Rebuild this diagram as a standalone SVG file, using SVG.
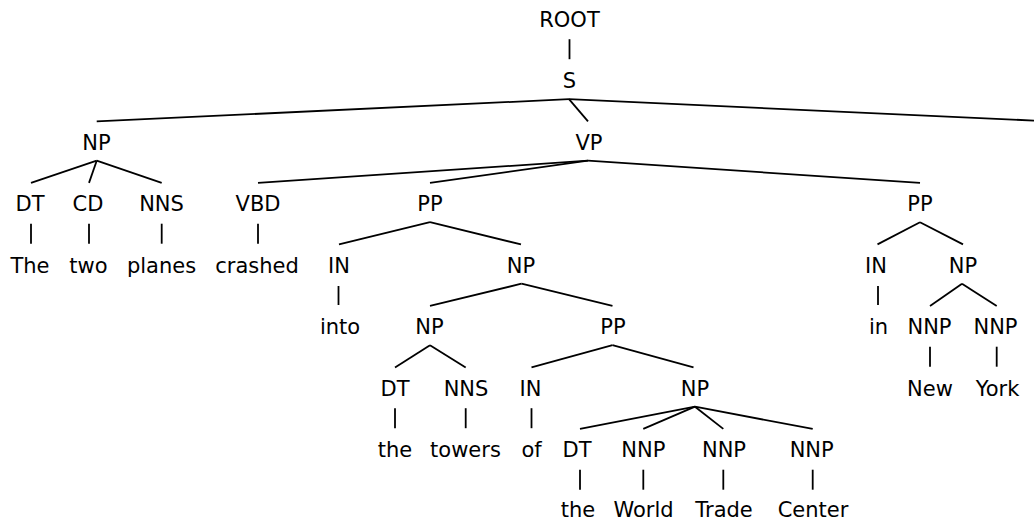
<svg xmlns="http://www.w3.org/2000/svg" width="1034" height="521" viewBox="0 0 1034 521">
  <style>
    .lbl { font-family: "DejaVu Sans", "Noto Sans", sans-serif; font-size: 21px; text-anchor: middle; fill: #000; }
    .edge { stroke: #000; stroke-width: 1.8; fill: none; stroke-linecap: butt; }
  </style>
  <rect width="1034" height="521" fill="#fff"/>

  <!-- tree edges -->
  <g id="connectors" class="edge">
    <!-- ROOT -> S -->
    <line x1="569.5" y1="39.2" x2="569.5" y2="59.2"/>
    <!-- S -> NP, VP, (clipped) -->
    <line x1="569" y1="99.2" x2="96.7" y2="121.4"/>
    <line x1="569" y1="99.2" x2="588" y2="121.4"/>
    <line x1="569" y1="99.2" x2="1034" y2="120.6"/>
    <!-- NP -> DT CD NNS -->
    <line x1="96.7" y1="160.7" x2="31" y2="182.9"/>
    <line x1="96.7" y1="160.7" x2="89" y2="182.9"/>
    <line x1="96.7" y1="160.7" x2="161.7" y2="182.9"/>
    <!-- VP -> VBD PP PP -->
    <line x1="588" y1="160.7" x2="258" y2="182.9"/>
    <line x1="588" y1="160.7" x2="430" y2="182.9"/>
    <line x1="588" y1="160.7" x2="920" y2="182.9"/>
    <!-- preterminals -> words -->
    <line x1="31" y1="223.7" x2="31" y2="243.7"/>
    <line x1="89" y1="223.7" x2="89" y2="243.7"/>
    <line x1="161.7" y1="223.7" x2="161.7" y2="243.7"/>
    <line x1="258" y1="223.7" x2="258" y2="243.7"/>
    <!-- PP -> IN NP -->
    <line x1="430" y1="222.2" x2="339" y2="244.4"/>
    <line x1="430" y1="222.2" x2="521" y2="244.4"/>
    <!-- PP -> IN NP (right) -->
    <line x1="920" y1="222.2" x2="877.5" y2="244.4"/>
    <line x1="920" y1="222.2" x2="963" y2="244.4"/>
    <!-- IN -> into, IN -> in -->
    <line x1="338.5" y1="286" x2="338.5" y2="305"/>
    <line x1="878" y1="286" x2="878" y2="305"/>
    <!-- NP -> NP PP -->
    <line x1="521.5" y1="283.7" x2="430" y2="305.9"/>
    <line x1="521.5" y1="283.7" x2="612.5" y2="305.9"/>
    <!-- NP -> NNP NNP -->
    <line x1="962" y1="283.7" x2="930" y2="305.9"/>
    <line x1="962" y1="283.7" x2="996.7" y2="305.9"/>
    <!-- NNP -> New, York -->
    <line x1="930" y1="346.7" x2="930" y2="366.7"/>
    <line x1="996.7" y1="346.7" x2="996.7" y2="366.7"/>
    <!-- NP -> DT NNS -->
    <line x1="430" y1="345.2" x2="395" y2="367.4"/>
    <line x1="430" y1="345.2" x2="465.7" y2="367.4"/>
    <!-- PP -> IN NP -->
    <line x1="612.5" y1="345.2" x2="531.5" y2="367.4"/>
    <line x1="612.5" y1="345.2" x2="693.5" y2="367.4"/>
    <!-- DT -> the, NNS -> towers, IN -> of -->
    <line x1="395" y1="408.2" x2="395" y2="428.2"/>
    <line x1="465.7" y1="408.2" x2="465.7" y2="428.2"/>
    <line x1="531.5" y1="408.2" x2="531.5" y2="428.2"/>
    <!-- NP -> DT NNP NNP NNP -->
    <line x1="695" y1="406.7" x2="580" y2="428.9"/>
    <line x1="695" y1="406.7" x2="643.3" y2="428.9"/>
    <line x1="695" y1="406.7" x2="723.3" y2="428.9"/>
    <line x1="695" y1="406.7" x2="812.7" y2="428.9"/>
    <!-- DT/NNP -> the World Trade Center -->
    <line x1="580" y1="469.7" x2="580" y2="489.7"/>
    <line x1="643.3" y1="469.7" x2="643.3" y2="489.7"/>
    <line x1="723.3" y1="469.7" x2="723.3" y2="489.7"/>
    <line x1="812.7" y1="469.7" x2="812.7" y2="489.7"/>
  </g>

  <!-- labels -->
  <g id="n-root"><text class="lbl" x="569.5" y="26.7">ROOT</text></g>
  <g id="n-s"><text class="lbl" x="569.5" y="88.2">S</text></g>

  <g id="n-np1"><text class="lbl" x="96.5" y="149.7">NP</text></g>
  <g id="n-vp"><text class="lbl" x="589" y="149.7">VP</text></g>

  <g id="n-dt1"><text class="lbl" x="30" y="211.2">DT</text></g>
  <g id="n-cd"><text class="lbl" x="88" y="211.2">CD</text></g>
  <g id="n-nns1"><text class="lbl" x="161.5" y="211.2">NNS</text></g>
  <g id="n-vbd"><text class="lbl" x="258" y="211.2">VBD</text></g>
  <g id="n-pp1"><text class="lbl" x="430" y="211.2">PP</text></g>
  <g id="n-pp3"><text class="lbl" x="920" y="211.2">PP</text></g>

  <g id="w-the1"><text class="lbl" x="30" y="272.7">The</text></g>
  <g id="w-two"><text class="lbl" x="88.5" y="272.7">two</text></g>
  <g id="w-planes"><text class="lbl" x="161.5" y="272.7">planes</text></g>
  <g id="w-crashed"><text class="lbl" x="257" y="272.7">crashed</text></g>
  <g id="n-in1"><text class="lbl" x="339" y="272.7">IN</text></g>
  <g id="n-np2"><text class="lbl" x="521" y="272.7">NP</text></g>
  <g id="n-in3"><text class="lbl" x="876" y="272.7">IN</text></g>
  <g id="n-np5"><text class="lbl" x="963" y="272.7">NP</text></g>

  <g id="w-into"><text class="lbl" x="340" y="334.2">into</text></g>
  <g id="n-np3"><text class="lbl" x="429.5" y="334.2">NP</text></g>
  <g id="n-pp2"><text class="lbl" x="613" y="334.2">PP</text></g>
  <g id="w-in"><text class="lbl" x="878.5" y="334.2">in</text></g>
  <g id="n-nnp4"><text class="lbl" x="929.5" y="334.2">NNP</text></g>
  <g id="n-nnp5"><text class="lbl" x="995.5" y="334.2">NNP</text></g>

  <g id="n-dt2"><text class="lbl" x="395" y="395.7">DT</text></g>
  <g id="n-nns2"><text class="lbl" x="466" y="395.7">NNS</text></g>
  <g id="n-in2"><text class="lbl" x="530.5" y="395.7">IN</text></g>
  <g id="n-np4"><text class="lbl" x="695" y="395.7">NP</text></g>
  <g id="w-new"><text class="lbl" x="930" y="395.7">New</text></g>
  <g id="w-york"><text class="lbl" x="997.5" y="395.7">York</text></g>

  <g id="w-the2"><text class="lbl" x="395" y="457.2">the</text></g>
  <g id="w-towers"><text class="lbl" x="465.5" y="457.2">towers</text></g>
  <g id="w-of"><text class="lbl" x="531.5" y="457.2">of</text></g>
  <g id="n-dt3"><text class="lbl" x="577" y="457.2">DT</text></g>
  <g id="n-nnp1"><text class="lbl" x="643.3" y="457.2">NNP</text></g>
  <g id="n-nnp2"><text class="lbl" x="724" y="457.2">NNP</text></g>
  <g id="n-nnp3"><text class="lbl" x="811.7" y="457.2">NNP</text></g>

  <g id="w-the3"><text class="lbl" x="578" y="517">the</text></g>
  <g id="w-world"><text class="lbl" x="643.5" y="517">World</text></g>
  <g id="w-trade"><text class="lbl" x="724" y="517">Trade</text></g>
  <g id="w-center"><text class="lbl" x="813" y="517">Center</text></g>
</svg>
